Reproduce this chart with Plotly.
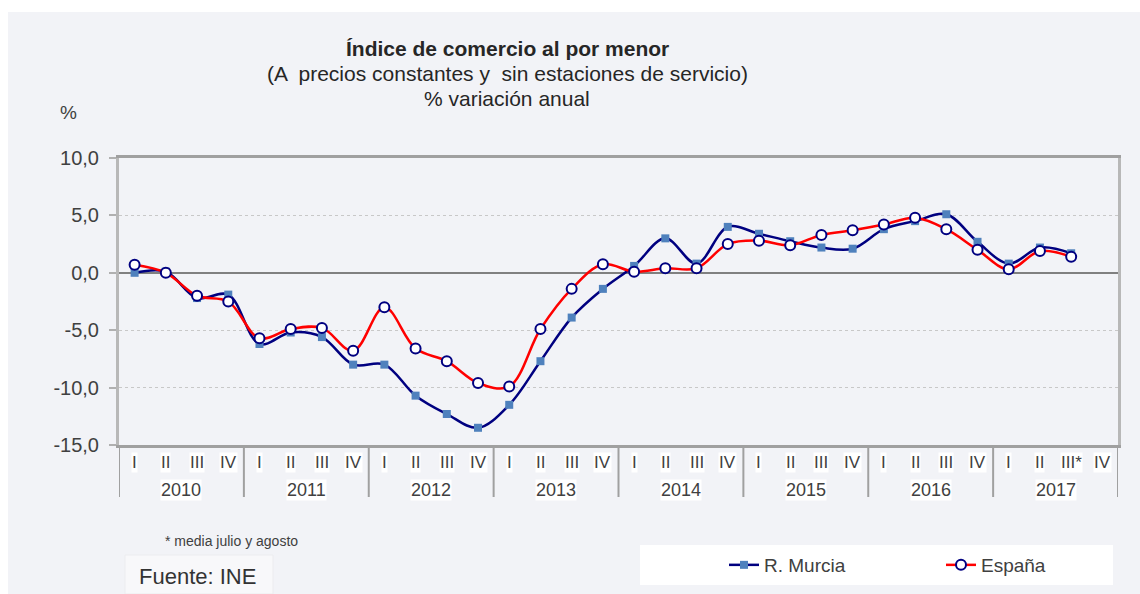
import plotly.graph_objects as go

# ---- data ----
years = ["2010", "2011", "2012", "2013", "2014", "2015", "2016", "2017"]
quarters = ["I", "II", "III", "IV"]
murcia = [0.0, 0.1, -2.2, -1.9,
          -6.2, -5.2, -5.6, -8.0,
          -8.0, -10.7, -12.3, -13.5,
          -11.5, -7.7, -3.9, -1.4,
          0.6, 3.0, 0.8, 4.0,
          3.4, 2.75, 2.2, 2.1,
          3.8, 4.5, 5.1, 2.7,
          0.8, 2.2, 1.7, None]
espana = [0.7, 0.0, -2.0, -2.5,
          -5.7, -4.9, -4.8, -6.8,
          -3.0, -6.6, -7.7, -9.6,
          -9.9, -4.9, -1.4, 0.75,
          0.1, 0.4, 0.4, 2.5,
          2.8, 2.4, 3.3, 3.7,
          4.2, 4.8, 3.8, 2.0,
          0.3, 1.9, 1.4, None]
y_ticks = [10, 5, 0, -5, -10, -15]
y_tick_labels = ["10,0", "5,0", "0,0", "-5,0", "-10,0", "-15,0"]

quarter_labels = [q for y in years for q in quarters]
quarter_labels[30] = "III*"
xpos = list(range(len(quarter_labels)))

# ---- geometry helpers (pixel -> paper) ----
W, H = 1140, 594
L, R, T, B = 119, 22, 158, 149
PW, PH = W - L - R, H - T - B


def px(x):
    return (x - L) / PW


def py(y):
    return (H - B - y) / PH


TXT = "#404040"
FONT = "Liberation Sans, Arial, sans-serif"

fig = go.Figure()
fig.add_trace(go.Scatter(
    x=xpos, y=murcia, name="R. Murcia", mode="lines+markers",
    line=dict(color="#000080", width=2.5, shape="spline", smoothing=1),
    marker=dict(symbol="square", size=8, color="#4F81BD", line=dict(width=0)),
))
fig.add_trace(go.Scatter(
    x=xpos, y=espana, name="España", mode="lines+markers",
    line=dict(color="#FF0000", width=2.5, shape="spline", smoothing=1),
    marker=dict(symbol="circle", size=10, color="white",
                line=dict(color="#000080", width=2)),
))

shapes = [
    # light panel background
    dict(type="rect", xref="paper", yref="paper", x0=px(8), x1=px(1140),
         y0=py(594), y1=py(12), fillcolor="#F2F3F7", line=dict(width=0), layer="below"),
    # legend white box
    dict(type="rect", xref="paper", yref="paper", x0=px(640), x1=px(1113),
         y0=py(585), y1=py(545), fillcolor="white", line=dict(width=0), layer="below"),
    # source box
    dict(type="rect", xref="paper", yref="paper", x0=px(125), x1=px(273),
         y0=py(594), y1=py(555), fillcolor="#F8F8FA",
         line=dict(width=1, color="#ECECEF"), layer="below"),
]
for k in range(len(years) + 1):
    shapes.append(dict(type="line", xref="x", yref="paper",
                       x0=4 * k - 0.5, x1=4 * k - 0.5, y0=0, y1=py(497),
                       line=dict(color="#A0A0A0", width=2)))

annotations = []
for i, q in enumerate(quarter_labels):
    annotations.append(dict(x=i, y=py(462), xref="x", yref="paper", text=q,
                            showarrow=False, bgcolor="white", borderpad=0,
                            font=dict(size=17, color=TXT, family=FONT),
                            yanchor="middle"))
for k, yr in enumerate(years):
    annotations.append(dict(x=4 * k + 1.5, y=py(490), xref="x", yref="paper", text=yr,
                            showarrow=False, bgcolor="white", borderpad=0,
                            font=dict(size=18, color=TXT, family=FONT),
                            yanchor="middle"))

annotations += [
    dict(x=px(507), y=py(48), xref="paper", yref="paper",
         text="<b>Índice de comercio al por menor</b>", showarrow=False,
         font=dict(size=21, color="#262626", family=FONT), yanchor="middle"),
    dict(x=px(507), y=py(73), xref="paper", yref="paper",
         text="(A  precios constantes y  sin estaciones de servicio)", showarrow=False,
         font=dict(size=21, color="#262626", family=FONT), yanchor="middle"),
    dict(x=px(507), y=py(99), xref="paper", yref="paper",
         text="% variación anual", showarrow=False,
         font=dict(size=21, color="#262626", family=FONT), yanchor="middle"),
    dict(x=px(58), y=py(112), xref="paper", yref="paper", text="%",
         showarrow=False, font=dict(size=19, color=TXT, family=FONT), yanchor="middle"),
    dict(x=px(163), y=py(541), xref="paper", yref="paper", text="* media julio y agosto",
         showarrow=False, xanchor="left", yanchor="middle",
         font=dict(size=14, color=TXT, family=FONT)),
    dict(x=px(137), y=py(576), xref="paper", yref="paper", text="Fuente: INE",
         showarrow=False, xanchor="left", yanchor="middle",
         font=dict(size=22, color="#333333", family=FONT)),
]

fig.update_layout(
    width=W, height=H,
    margin=dict(l=L, r=R, t=T, b=B, pad=0),
    paper_bgcolor="white", plot_bgcolor="white",
    font=dict(family=FONT, color=TXT),
    shapes=shapes, annotations=annotations,
    showlegend=True,
    legend=dict(orientation="h", xref="container", yref="container",
                x=724 / W, y=1 - 565 / H, xanchor="left", yanchor="middle",
                bgcolor="rgba(0,0,0,0)", font=dict(size=19, color=TXT, family=FONT),
                entrywidth=172, entrywidthmode="pixels"),
    xaxis=dict(range=[-0.5, 31.5], showticklabels=False, ticks="", showgrid=False,
               zeroline=False, showline=True, linecolor="#A0A0A0", linewidth=3,
               mirror=True, fixedrange=True),
    yaxis=dict(range=[-15, 10], tickvals=y_ticks, ticktext=y_tick_labels,
               ticks="outside", ticklen=7, tickwidth=2, tickcolor="#B0B0B0",
               showline=True, linecolor="#B8B8B8", linewidth=3, mirror=True,
               showgrid=True, gridcolor="#C8C8C8", griddash="dot", gridwidth=1,
               zeroline=True, zerolinecolor="#808080", zerolinewidth=2,
               tickfont=dict(size=20, color=TXT, family=FONT),
               ticklabelstandoff=6, fixedrange=True),
)

fig.write_html("out.html", config={"displayModeBar": False},
               post_script="document.body.style.margin='0';document.body.style.overflow='hidden';")
